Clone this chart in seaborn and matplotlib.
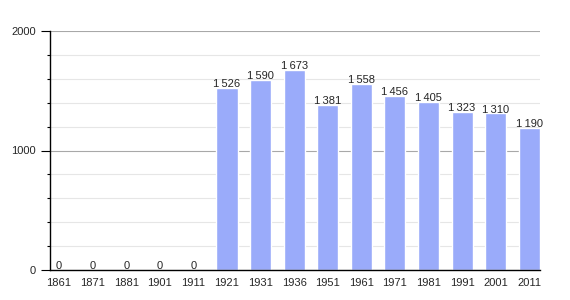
import matplotlib
matplotlib.use("Agg")
import matplotlib.pyplot as plt
import seaborn as sns
import pandas as pd
from matplotlib.ticker import MultipleLocator

years = ["1861", "1871", "1881", "1901", "1911", "1921", "1931", "1936",
         "1951", "1961", "1971", "1981", "1991", "2001", "2011"]
population = [0, 0, 0, 0, 0, 1526, 1590, 1673, 1381, 1558, 1456, 1405, 1323, 1310, 1190]

sns.set_style("white")
plt.rcParams['font.family'] = ['Liberation Sans', 'DejaVu Sans']

df = pd.DataFrame({"year": years, "pop": population})

fig = plt.figure(figsize=(5.7, 3.0), dpi=100)
ax = fig.add_axes([50/570, 30/300, 490/570, 239/300])

sns.barplot(data=df, x="year", y="pop", color="#9aabfa", saturation=1,
            width=0.63, ax=ax, zorder=3)

ax.set_xlim(-0.27, 14.32)
ax.set_ylim(0, 2000)
ax.yaxis.set_major_locator(MultipleLocator(1000))
ax.yaxis.set_minor_locator(MultipleLocator(200))
ax.grid(axis="y", which="minor", color="#e6e6e6", linewidth=0.8, zorder=0)
ax.grid(axis="y", which="major", color="#a8a8a8", linewidth=0.8, zorder=1)
ax.set_axisbelow(True)

for s in ["top", "right"]:
    ax.spines[s].set_visible(False)
for s in ["left", "bottom"]:
    ax.spines[s].set_color("black")
    ax.spines[s].set_linewidth(1.0)
    ax.spines[s].set_zorder(5)

ax.tick_params(axis="y", which="major", left=True, length=6.5, width=0.8,
               color="black", labelsize=8, pad=3.5)
ax.tick_params(axis="y", which="minor", left=True, length=2.2, width=0.8,
               color="black")
ax.tick_params(axis="x", bottom=False, labelsize=8, pad=2)
ax.set_xlabel("")
ax.set_ylabel("")

for i, v in enumerate(population):
    label = f"{v:,}".replace(",", "\u2009")
    ax.text(i, v + 6, label, ha="center", va="baseline", fontsize=8, zorder=6)

fig.savefig("out.png", dpi=100)
